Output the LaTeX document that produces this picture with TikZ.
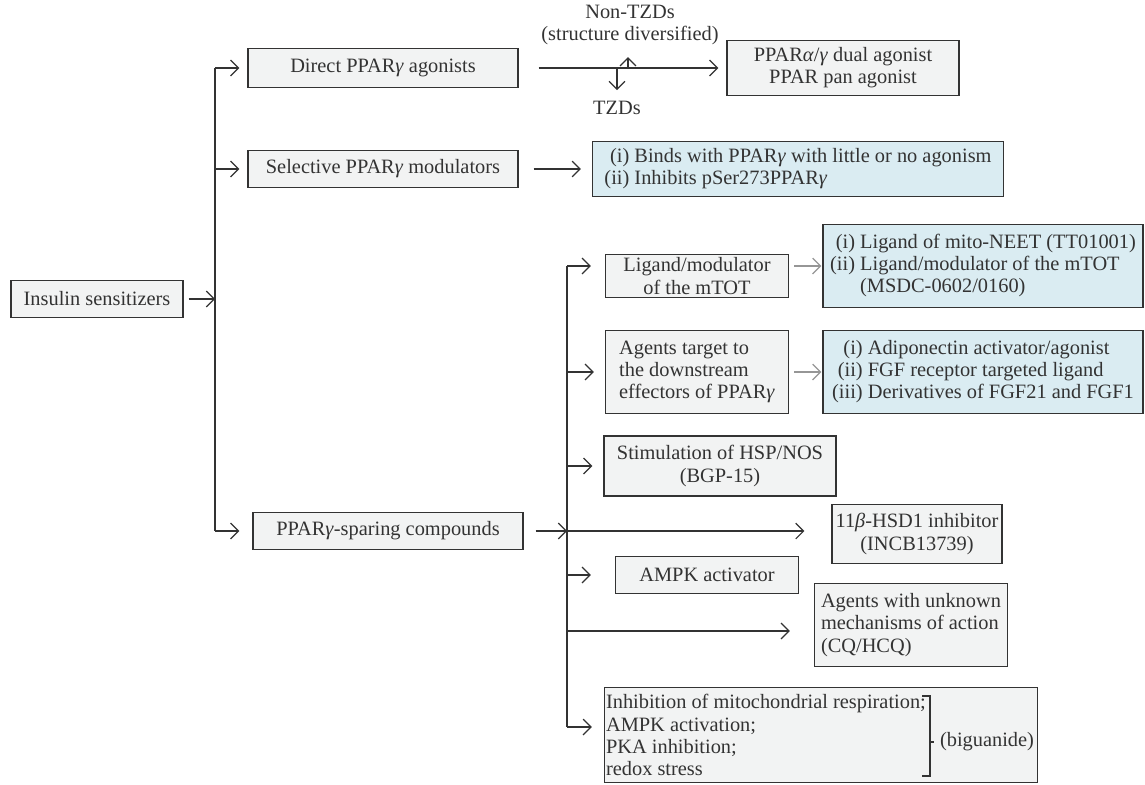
\documentclass[tikz,border=0pt]{standalone}
\usepackage{fontspec}
\setmainfont{Liberation Serif}
\definecolor{boxgray}{RGB}{242,243,243}
\definecolor{boxblue}{RGB}{218,236,242}
\definecolor{edgegray}{RGB}{51,51,51}
\definecolor{linkgray}{RGB}{150,150,150}
\newcommand{\gam}{\textit{γ}}
\usetikzlibrary{arrows.meta,positioning,calc}

\begin{document}
\begin{tikzpicture}[x=0.02cm,y=-0.02cm,
  every node/.style={font=\fontsize{11.6}{12.6}\selectfont, text=edgegray},
  graybox/.style={draw=edgegray, fill=boxgray, line width=0.7pt, align=center, inner sep=2pt},
  bluebox/.style={draw=edgegray, fill=boxblue, line width=0.7pt, inner sep=2pt},
  link/.style={draw=edgegray, line width=0.7pt},
  arr/.style={link, -{Straight Barb[length=4.5pt,width=9pt]}},
  softarr/.style={arr, draw=linkgray}]
  \useasboundingbox (0,0) rectangle (1145,784);
  % Root and first level
  \node[graybox, minimum width=3.44cm, minimum height=0.74cm] (ins) at (97,299) {Insulin sensitizers};
  \node[graybox, minimum width=5.4cm, minimum height=0.78cm] (direct) at (383,68) {Direct PPAR\gam{} agonists};
  \node[graybox, minimum width=5.4cm, minimum height=0.74cm] (select) at (383,169) {Selective PPAR\gam{} modulators};
  \node[graybox, minimum width=5.4cm, minimum height=0.74cm] (spare) at (388,531) {PPAR\gam-sparing compounds};
  \coordinate (ta) at (215,68);
  \coordinate (tb) at (215,531);
  \draw[link] (ta) -- (tb);
  \draw[arr] ([xshift=0.1cm]ins.east) -- (ins.east -| ta);
  \draw[arr] (ta) -- ([xshift=-0.16cm]direct.west);
  \draw[arr] (ta |- select) -- ([xshift=-0.16cm]select.west);
  \draw[arr] (tb) -- ([xshift=-0.26cm]spare.west);
  % Direct agonists
  \node[graybox, minimum width=4.64cm, minimum height=1.1cm] (dual) at (843,68) {PPAR\textit{α}/\gam{} dual agonist\\PPAR pan agonist};
  \node[align=center] (nontzd) at (630,25) {Non-TZDs\\(structure diversified)};
  \node (tzd) at (617,108) {TZDs};
  \draw[arr] ([xshift=0.4cm]direct.east) -- ([xshift=-0.16cm]dual.west);
  \coordinate (up) at (628,68);
  \coordinate (dn) at (617,68);
  \draw[arr] (up) -- ([yshift=-0.12cm]nontzd.south -| up);
  \draw[arr] (dn) -- ([yshift=0.1cm]tzd.north);
  % Selective modulators
  \node[bluebox, minimum width=8.22cm, minimum height=1.1cm] (sel1) at (798,169) {\begin{tabular}{@{}r@{ }l@{}}(i)&Binds with PPAR\gam{} with little or no agonism\\(ii)&Inhibits pSer273PPAR\gam\end{tabular}};
  \draw[arr] ([xshift=0.3cm]select.east) -- ([xshift=-0.22cm]sel1.west);
  % PPARgamma-sparing compounds
  \coordinate (ua) at (567,266);
  \coordinate (ub) at (567,727);
  \coordinate (uc) at (567,631);
  \draw[link] (ua) -- (ub);
  \draw[arr] ([xshift=0.24cm]spare.east) -- (spare.east -| ua);
  \node[graybox, minimum width=3.66cm, minimum height=0.84cm] (ligand) at (697,276) {Ligand/modulator\\of the mTOT};
  \node[bluebox, minimum width=6.4cm, minimum height=1.66cm] (mtot) at (983,266) {\begin{tabular}{@{}r@{ }l@{}}(i)&Ligand of mito-NEET (TT01001)\\(ii)&Ligand/modulator of the mTOT\\&(MSDC-0602/0160)\end{tabular}};
  \node[graybox, align=left, minimum width=3.66cm, minimum height=1.66cm] (agents) at (697,372) {Agents target to\\the downstream\\effectors of PPAR\gam};
  \node[bluebox, minimum width=6.4cm, minimum height=1.66cm] (fgf) at (983,372) {\begin{tabular}{@{}r@{ }l@{}}(i)&Adiponectin activator/agonist\\(ii)&FGF receptor targeted ligand\\(iii)&Derivatives of FGF21 and FGF1\end{tabular}};
  \node[graybox, minimum width=4.64cm, minimum height=1.2cm] (hsp) at (720,466) {Stimulation of HSP/NOS\\(BGP-15)};
  \node[graybox, minimum width=3.3cm, minimum height=1.18cm] (hsd) at (917,534) {11\textit{β}-HSD1 inhibitor\\(INCB13739)};
  \node[graybox, minimum width=3.66cm, minimum height=0.74cm] (ampk) at (707,575) {AMPK activator};
  \node[graybox, align=left, minimum width=3.86cm, minimum height=1.66cm] (cq) at (911,625) {Agents with unknown\\mechanisms of action\\(CQ/HCQ)};
  \node[graybox, minimum width=8.66cm, minimum height=1.9cm] (big) at (821,735) {};
  \node[align=left, anchor=west, inner sep=1pt] (bigtxt) at (big.west) {Inhibition of mitochondrial respiration;\\AMPK activation;\\PKA inhibition;\\redox stress};
  \node (bigl) at (987,742) {(biguanide)};
  \draw[arr] (ua) -- ([xshift=-0.28cm]ligand.west |- ua);
  \draw[softarr] ([xshift=0.1cm]ligand.east |- mtot) -- ([xshift=-0.02cm]mtot.west);
  \draw[arr] (ua |- agents) -- ([xshift=-0.22cm]agents.west);
  \draw[softarr] ([xshift=0.1cm]agents.east) -- ([xshift=-0.02cm]fgf.west);
  \draw[arr] (ua |- hsp) -- ([xshift=-0.22cm]hsp.west);
  \draw[arr] (ua |- spare) -- ([xshift=-0.54cm]hsd.west |- spare);
  \draw[arr] (ua |- ampk) -- ([xshift=-0.48cm]ampk.west);
  \draw[arr] (uc) -- ([xshift=-0.48cm]cq.west |- uc);
  \draw[arr] (ub) -- ([xshift=-0.24cm]big.west |- ub);
  % bracket
  \draw[link] (922,696) -- (930,696) -- (930,776) -- (922,776);
  \draw[link] (930,742) -- (bigl.west);
\end{tikzpicture}
\end{document}
